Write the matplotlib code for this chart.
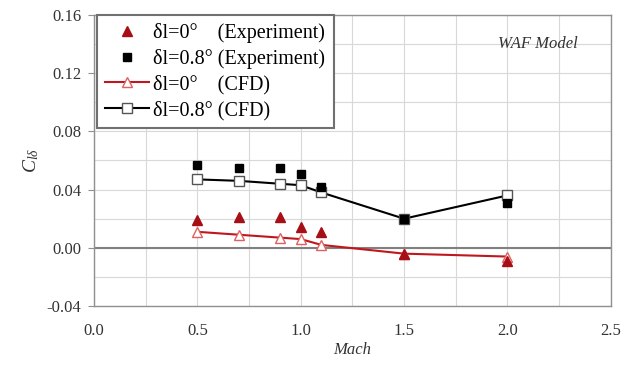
import matplotlib
matplotlib.use("Agg")
import matplotlib.pyplot as plt
from matplotlib.ticker import MultipleLocator

plt.rcParams['font.family'] = ['Liberation Serif', 'DejaVu Serif']
plt.rcParams['mathtext.fontset'] = 'custom'
plt.rcParams['mathtext.rm'] = 'Liberation Serif'
plt.rcParams['mathtext.it'] = 'Liberation Serif:italic'

mach = [0.5, 0.7, 0.9, 1.0, 1.1, 1.5, 2.0]
exp_d0 = [0.019, 0.021, 0.021, 0.014, 0.011, -0.004, -0.009]
exp_d08 = [0.057, 0.055, 0.055, 0.051, 0.042, 0.020, 0.031]
cfd_d0 = [0.011, 0.009, 0.007, 0.006, 0.002, -0.004, -0.006]
cfd_d08 = [0.047, 0.046, 0.044, 0.043, 0.038, 0.020, 0.036]

xticks = [0.0, 0.5, 1.0, 1.5, 2.0, 2.5]
yticks = [-0.04, 0.00, 0.04, 0.08, 0.12, 0.16]

fig = plt.figure(figsize=(6.33, 3.71), dpi=100)
ax = fig.add_axes([0.1485, 0.175, 0.8165, 0.785])

red = '#C0171E'
ax.plot(mach, exp_d0, linestyle='none', marker='^', color='#A50F15', markersize=7,
        label='δl=0°    (Experiment)', zorder=4)
ax.plot(mach, exp_d08, linestyle='none', marker='s', color='black', markersize=6,
        label='δl=0.8° (Experiment)', zorder=4)
ax.plot(mach, cfd_d0, color=red, lw=1.5, marker='^', markerfacecolor='white',
        markeredgecolor='#E06060', markersize=6.5, label='δl=0°    (CFD)', zorder=3)
ax.plot(mach, cfd_d08, color='black', lw=1.5, marker='s', markerfacecolor='white',
        markeredgecolor='#555555', markersize=7, label='δl=0.8° (CFD)', zorder=3)

ax.set_xlim(0, 2.5)
ax.set_ylim(-0.04, 0.16)
ax.set_xticks(xticks)
ax.set_xticklabels([f'{v:.1f}' for v in xticks])
ax.set_yticks(yticks)
ax.set_yticklabels([f'{v:.2f}' for v in yticks])
ax.xaxis.set_minor_locator(MultipleLocator(0.25))
ax.yaxis.set_minor_locator(MultipleLocator(0.02))
ax.grid(True, which='both', color='#d8d8d8', lw=0.8)
ax.axhline(0, color='#808080', lw=1.5, zorder=2)
ax.tick_params(axis='both', which='minor', length=0)
ax.tick_params(axis='y', which='major', length=4, direction='out', color='#909090',
               labelsize=12, labelcolor='#333333', pad=5)
ax.tick_params(axis='x', which='major', length=0, labelsize=12, labelcolor='#333333', pad=12)
for s in ax.spines.values():
    s.set_color('#909090')
    s.set_linewidth(1.0)

ax.set_xlabel('Mach', fontsize=12, style='italic', color='#333333', labelpad=2)
ax.set_ylabel(r'$C_{l\delta}$', fontsize=14, color='#333333', labelpad=4)

ax.text(0.935, 0.9, 'WAF Model', transform=ax.transAxes, fontsize=12, style='italic',
        ha='right', va='center', color='#333333')

leg = ax.legend(loc='upper left', bbox_to_anchor=(0.006, 1.0), fontsize=14.5,
                frameon=True, fancybox=False, edgecolor='#707070', framealpha=1,
                borderpad=0.4, labelspacing=0.3, handlelength=2.2, handletextpad=0.2,
                borderaxespad=0.0)
leg.get_frame().set_linewidth(1.5)

fig.savefig('out.png', dpi=100)
